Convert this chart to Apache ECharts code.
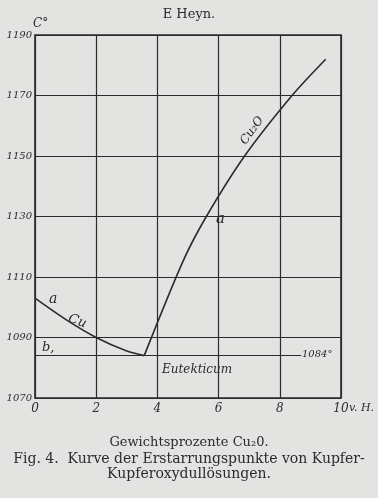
<!DOCTYPE html>
<html>
<head>
<meta charset="utf-8">
<script src="https://cdn.jsdelivr.net/npm/echarts@6/dist/echarts.min.js"></script>
<style>
  html, body { margin: 0; padding: 0; background: #e3e3e2; }
  #chart { width: 378px; height: 498px; }
</style>
</head>
<body>
<div id="chart"></div>
<script>
// liquidus, Cu side (x: % Cu2O, y: deg C)
const cuBranch = [[0, 1103], [1, 1096], [2, 1090], [3, 1085.5], [3.57, 1084]];
// liquidus, Cu2O side
const cu2oBranch = [[3.57, 1084], [4.85, 1115.5], [5.6, 1130], [6.85, 1150], [8.4, 1170], [9.5, 1182]];
const eutecticTemp = 1084;
const xTicks = [0, 2, 4, 6, 8, 10];
const yTicks = [1070, 1090, 1110, 1130, 1150, 1170, 1190];

const ink = '#2b2b2b';

const chart = echarts.init(document.getElementById('chart'));

chart.setOption({
  backgroundColor: '#e3e3e2',
  animation: false,
  grid: { left: 35, top: 35, width: 306, height: 363 },
  xAxis: {
    type: 'value',
    min: xTicks[0],
    max: xTicks[xTicks.length - 1],
    interval: 2,
    axisLine: { show: false },
    axisTick: { show: false },
    axisLabel: {
      margin: 5,
      color: ink,
      fontFamily: 'DejaVu Serif',
      fontStyle: 'italic',
      fontSize: 12,
      formatter: (v) => String(v)
    },
    splitLine: { lineStyle: { color: ink, width: 1.2 } }
  },
  yAxis: {
    type: 'value',
    min: yTicks[0],
    max: yTicks[yTicks.length - 1],
    interval: 20,
    axisLine: { show: false },
    axisTick: { show: false },
    axisLabel: {
      margin: 3,
      color: ink,
      fontFamily: 'DejaVu Serif',
      fontStyle: 'italic',
      fontSize: 10,
      formatter: (v) => String(v)
    },
    splitLine: { lineStyle: { color: ink, width: 1.2 } }
  },
  series: [
    {
      type: 'line',
      data: cuBranch,
      smooth: 0.3,
      symbol: 'none',
      lineStyle: { color: ink, width: 1.6 },
      markLine: {
        silent: true,
        symbol: 'none',
        lineStyle: { color: ink, width: 1.2, type: 'solid' },
        label: { show: false },
        data: [[{ coord: [0, eutecticTemp] }, { coord: [8.7, eutecticTemp] }]]
      }
    },
    {
      type: 'line',
      data: cu2oBranch,
      smooth: 0.3,
      symbol: 'none',
      lineStyle: { color: ink, width: 1.6 }
    }
  ],
  graphic: [
    // plot frame
    { type: 'rect', shape: { x: 35, y: 35, width: 306, height: 363 }, style: { fill: null, stroke: ink, lineWidth: 1.6 } },
    { type: 'text', left: 'center', top: 8, style: { text: 'E Heyn.', font: '13px "DejaVu Serif"', fill: ink } },
    { type: 'text', x: 33, y: 18, style: { text: 'C°', font: 'italic 12px "DejaVu Serif"', fill: ink } },
    { type: 'text', x: 349, y: 403, style: { text: 'v. H.', font: 'italic 11px "DejaVu Serif"', fill: ink } },
    { type: 'text', x: 49, y: 292, style: { text: 'a', font: 'italic 14px "DejaVu Serif"', fill: ink } },
    { type: 'text', x: 71, y: 312, rotation: -0.35, style: { text: 'Cu', font: 'italic 13px "DejaVu Serif"', fill: ink } },
    { type: 'text', x: 42, y: 341, style: { text: 'b,', font: 'italic 13px "DejaVu Serif"', fill: ink } },
    { type: 'text', x: 216, y: 212, style: { text: 'a', font: 'italic 15px "DejaVu Serif"', fill: ink } },
    { type: 'text', x: 238, y: 140, rotation: 0.95, style: { text: 'Cu₂O', font: 'italic 12px "DejaVu Serif"', fill: ink } },
    { type: 'text', x: 162, y: 364, style: { text: 'Eutekticum', font: 'italic 12px "DejaVu Serif"', fill: ink } },
    { type: 'text', x: 302, y: 349, style: { text: '1084°', font: 'italic 10px "DejaVu Serif"', fill: ink } },
    { type: 'text', left: 'center', top: 436, style: { text: 'Gewichtsprozente Cu₂0.', font: '13px "DejaVu Serif"', fill: ink } },
    { type: 'text', left: 'center', top: 452, style: { text: 'Fig. 4.  Kurve der Erstarrungspunkte von Kupfer-', font: '14px "DejaVu Serif"', fill: ink } },
    { type: 'text', left: 'center', top: 467, style: { text: 'Kupferoxydullösungen.', font: '14px "DejaVu Serif"', fill: ink } }
  ]
});
</script>
</body>
</html>
